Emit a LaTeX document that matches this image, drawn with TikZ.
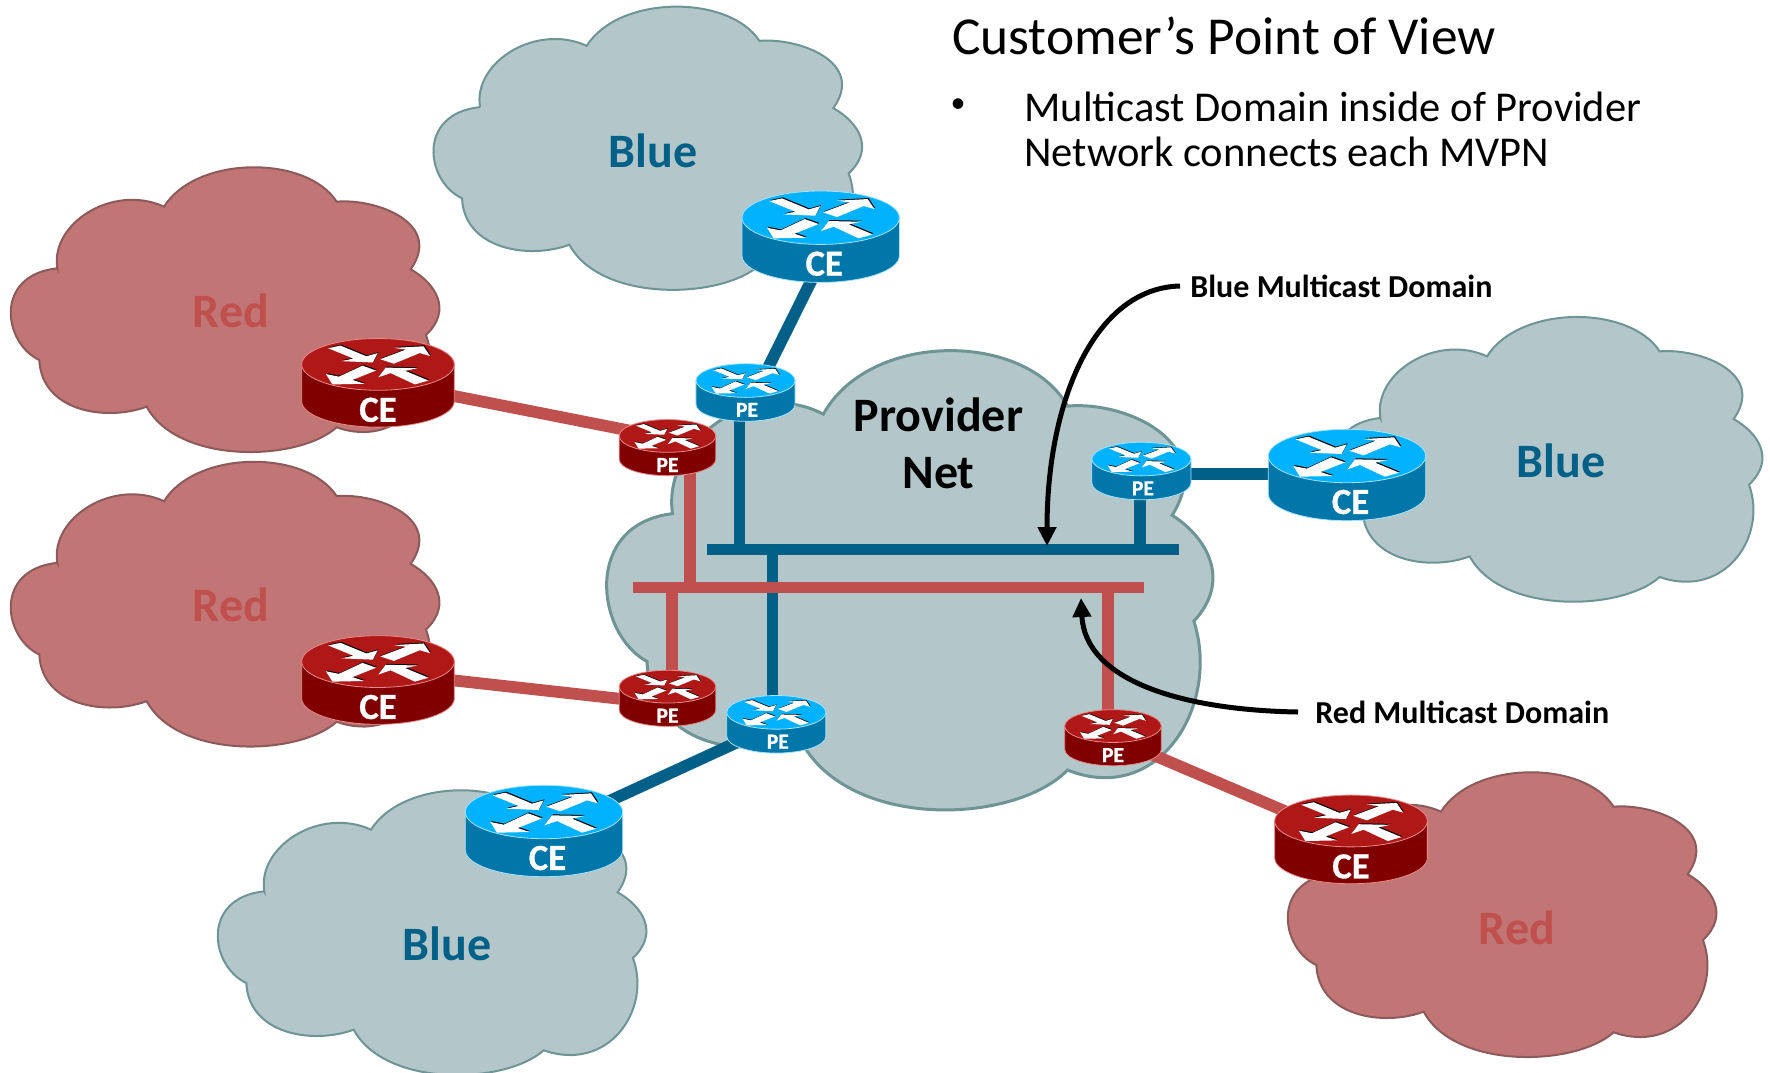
\documentclass[tikz,border=0pt]{standalone}
\usepackage{fontspec}
\setmainfont{Carlito}
\newfontfamily\routerfont{Carlito}[UprightFont=* Bold,FakeBold=0.7]
\usetikzlibrary{arrows.meta}
\definecolor{redfill}{HTML}{C27575}
\definecolor{rededge}{HTML}{8C5A5A}
\definecolor{bluefill}{HTML}{B3C6C9}
\definecolor{blueedge}{HTML}{6E9496}
\definecolor{redline}{HTML}{C0504D}
\definecolor{blueline}{HTML}{006088}
\definecolor{redtop}{HTML}{B01818}
\definecolor{redside}{HTML}{800000}
\definecolor{redrim}{HTML}{E88A8A}
\definecolor{bluetop}{HTML}{00B2FF}
\definecolor{blueside}{HTML}{0077A8}
\definecolor{bluerim}{HTML}{A5E2FF}
\tikzset{
  redcloud/.style={fill=redfill,draw=rededge,line width=1pt},
  bluecloud/.style={fill=bluefill,draw=blueedge,line width=1pt},
  provcloud/.style={fill=bluefill,draw=blueedge,line width=1.5pt},
  redlink/.style={draw=redline,line width=5.9pt},
  bluelink/.style={draw=blueline,line width=5.9pt},
  cloudtext/.style={font=\fontsize{24}{28}\selectfont\bfseries,inner sep=0pt},
  domaintext/.style={font=\fontsize{16}{19}\selectfont\bfseries,inner sep=0pt,anchor=west},
  callout/.style={draw=black,line width=2.5pt,-{Triangle[length=9.5pt,width=9pt]}},
  cetext/.style={font=\fontsize{18.4}{20}\selectfont\routerfont,inner sep=0pt},
  petext/.style={font=\fontsize{10.8}{12}\selectfont\routerfont,inner sep=0pt},
}
% outline of the cloud, in its own coordinates
\newcommand\cloudoutline{
  (172,325) .. controls (150,190) and (340,70) .. (492,140)
  .. controls (590,-15) and (920,-15) .. (1010,125)
  .. controls (1130,115) and (1330,190) .. (1232,328)
  .. controls (1307,370) and (1358,450) .. (1278,525)
  .. controls (1335,680) and (1205,870) .. (1010,802)
  .. controls (895,905) and (535,915) .. (440,740)
  .. controls (320,785) and (125,755) .. (118,600)
  .. controls (10,550) and (-20,345) .. cycle
}
% #1 style, #2 #3 origin, #4 #5 scales
\newcommand\cloudat[5]{
  \begin{scope}[shift={(#2,#3)},xscale=#4,yscale=#5]
    \path[#1] \cloudoutline;
  \end{scope}
}
\newcommand\routerarrows[1]{
  \fill[#1] (137,58)--(175,50)--(255,83)--(290,73)--(275,102)--(178,98)--(215,90)--cycle;
  \fill[#1] (298,92)--(378,62)--(340,57)--(432,52)--(452,82)--(420,73)--(340,106)--cycle;
  \fill[#1] (243,112)--(285,127)--(212,156)--(248,168)--(150,170)--(130,138)--(170,146)--cycle;
  \fill[#1] (447,158)--(405,170)--(330,135)--(292,148)--(315,118)--(412,120)--(375,128)--cycle;
}
% #1 name, #2 scale, #3 prefix of colours red/blue
\newcommand\routerbody[3]{
  \begin{scope}[shift={(#1)},xscale=#2,yscale=#2]
    \path[fill=#3side,draw=#3rim,line width=.4pt]
      (-78.7,-19) -- (-78.7,19) arc[start angle=180,end angle=0,x radius=78.7,y radius=26.7] -- (78.7,-19) -- cycle;
    \path[fill=#3top,draw=#3rim,line width=.4pt] (0,-19) ellipse[x radius=78.7,y radius=26.7];
    \begin{scope}[xscale=1/3,yscale=1/3,shift={(-291,-165)}]
      \begin{scope}[shift={(2.5,-3)}]\routerarrows{black}\end{scope}
      \routerarrows{white}
    \end{scope}
  \end{scope}
}
\begin{document}
\begin{tikzpicture}[x=.5pt,y=-.5pt]
\useasboundingbox (0,0) rectangle (1770,1072);
% router positions
\coordinate (cered1) at (378,382.8);
\coordinate (cered2) at (378,680);
\coordinate (cered3) at (1351,839.4);
\coordinate (ceblue1) at (820.7,236.7);
\coordinate (ceblue2) at (1347,475);
\coordinate (ceblue3) at (544,831);
\coordinate (pered1) at (667.5,447.6);
\coordinate (pered2) at (667.5,698.3);
\coordinate (pered3) at (1113,737.7);
\coordinate (peblue1) at (745.5,392.5);
\coordinate (peblue2) at (1141.4,471);
\coordinate (peblue3) at (776.3,724.3);
% ends of the links that sit off-centre under a router
\coordinate (lrA) at (378,381);
\coordinate (lrB) at (667,438);
\coordinate (lrC) at (378,672);
\coordinate (lrD) at (667,704);
\coordinate (lbA) at (833,237);
\coordinate (lbB) at (756,392);
\coordinate (lbC) at (1141,474);
\coordinate (lbD) at (1347,474);
% buses
\coordinate (bluebusL) at (707,549.5);
\coordinate (bluebusR) at (1179,549.5);
\coordinate (redbusL) at (632.9,587.5);
\coordinate (redbusR) at (1144.3,587.5);
\coordinate (bstubA) at (739.4,549.5);
\coordinate (bstubB) at (1140.2,549.5);
\coordinate (bstubC) at (772.5,549.5);
\coordinate (rstubA) at (689.6,587.5);
\coordinate (rstubB) at (672,587.5);
\coordinate (rstubC) at (1108,587.5);
% clouds
\cloudat{redcloud}{0}{160}{.3333}{.3333}
\cloudat{redcloud}{0}{454.5}{.3333}{.3333}
\cloudat{redcloud}{1277}{765}{.3333}{.3333}
\cloudat{bluecloud}{422.7}{-.6}{.3333}{.3315}
\cloudat{bluecloud}{1323}{309.7}{.3333}{.3333}
\cloudat{bluecloud}{207}{783}{.3333}{.3333}
\cloudat{provcloud}{591.4}{338.9}{.4714}{.5376}
% cloud texts
\node[cloudtext,text=redline] (tred1) at (231,311) {Red};
\node[cloudtext,text=redline] (tred2) at (231,605) {Red};
\node[cloudtext,text=redline] (tred3) at (1517,927.5) {Red};
\node[cloudtext,text=blueline] (tblue1) at (653,151) {Blue};
\node[cloudtext,text=blueline] (tblue2) at (1561,460.5) {Blue};
\node[cloudtext,text=blueline] (tblue3) at (447,943.5) {Blue};
\node[cloudtext,text=black] (prov1) at (938.5,415) {Provider};
\node[cloudtext,text=black] (prov2) at (938.5,473.5) {Net};
% blue network
\draw[bluelink] (bluebusL) -- (bluebusR);
\draw[bluelink] (bstubA) -- (bstubA |- peblue1);
\draw[bluelink] (bstubB) -- (bstubB |- peblue2);
\draw[bluelink] (bstubC) -- (bstubC |- peblue3);
\draw[bluelink] (lbA) -- (lbB);
\draw[bluelink] (lbC) -- (lbD);
\draw[bluelink] (ceblue3) -- (peblue3);
% red network
\draw[redlink] (redbusL) -- (redbusR);
\draw[redlink] (rstubA) -- (rstubA |- pered1);
\draw[redlink] (rstubB) -- (rstubB |- pered2);
\draw[redlink] (rstubC) -- (rstubC |- pered3);
\draw[redlink] (lrA) -- (lrB);
\draw[redlink] (lrC) -- (lrD);
\draw[redlink] (pered3) -- (cered3);
% routers
\routerbody{pered1}{.614}{red}
\routerbody{pered2}{.614}{red}
\routerbody{pered3}{.614}{red}
\routerbody{peblue1}{.63}{blue}
\routerbody{peblue2}{.63}{blue}
\routerbody{peblue3}{.63}{blue}
\routerbody{cered1}{.97}{red}
\routerbody{cered2}{.97}{red}
\routerbody{cered3}{.97}{red}
\routerbody{ceblue1}{1}{blue}
\routerbody{ceblue2}{1}{blue}
\routerbody{ceblue3}{1}{blue}
\node[cetext,text=white] (lce1) at ([shift={(0,27)}]cered1) {CE};
\node[cetext,text=white] (lce2) at ([shift={(0,27)}]cered2) {CE};
\node[cetext,text=white] (lce3) at ([shift={(0,27)}]cered3) {CE};
\node[cetext,text=white] (lce4) at ([shift={(3.5,27)}]ceblue1) {CE};
\node[cetext,text=white] (lce5) at ([shift={(3.5,27)}]ceblue2) {CE};
\node[cetext,text=white] (lce6) at ([shift={(3.5,27)}]ceblue3) {CE};
\node[petext,text=white] (lpe1) at ([shift={(0,17.4)}]pered1) {PE};
\node[petext,text=white] (lpe2) at ([shift={(0,17.4)}]pered2) {PE};
\node[petext,text=white] (lpe3) at ([shift={(0,17.4)}]pered3) {PE};
\node[petext,text=white] (lpe4) at ([shift={(1.5,17.4)}]peblue1) {PE};
\node[petext,text=white] (lpe5) at ([shift={(1.5,17.4)}]peblue2) {PE};
\node[petext,text=white] (lpe6) at ([shift={(1.5,17.4)}]peblue3) {PE};
% callouts
\node[domaintext] (dblue) at (1190,286) {Blue Multicast Domain};
\node[domaintext] (dred) at (1315,712) {Red Multicast Domain};
\coordinate (tipblue) at (1047,546);
\coordinate (tipred) at (1081,598);
\draw[callout] ([xshift=-5pt]dblue.west) .. controls (1095,288) and (1047,400) .. (tipblue);
\draw[callout] ([xshift=-8.5pt]dred.west) .. controls (1180,710) and (1085,680) .. (tipred);
% title
\node[anchor=west,inner sep=0pt,font=\fontsize{26.7}{30}\selectfont] (title) at (951.6,36) {Customer’s Point of View};
\node[inner sep=0pt,font=\fontsize{15}{18}\selectfont] (bullet) at (958,106) {•};
\node[anchor=north west,inner sep=0pt,align=left,font=\fontsize{21.26}{22.5}\selectfont] (body) at (1024,92) {Multicast Domain inside of Provider\\Network connects each MVPN};
\end{tikzpicture}
\end{document}
